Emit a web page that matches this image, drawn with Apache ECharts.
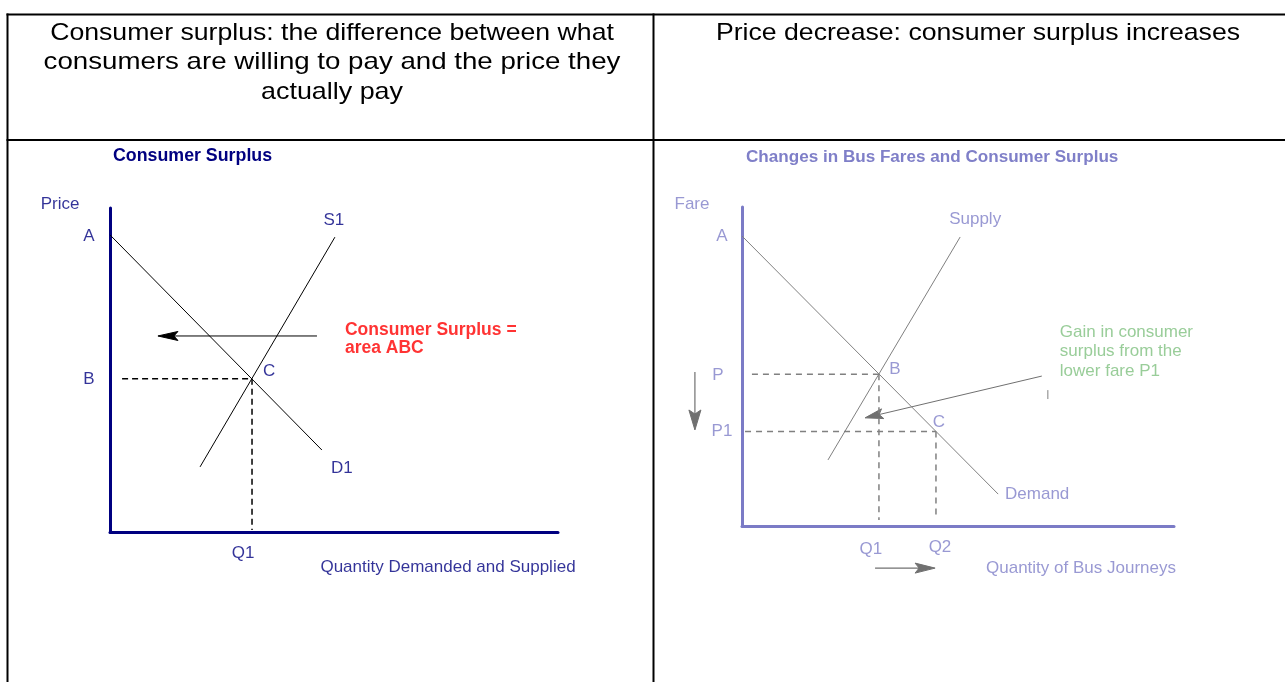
<!DOCTYPE html>
<html><head><meta charset="utf-8">
<script src="https://cdn.jsdelivr.net/npm/echarts@6/dist/echarts.min.js"></script>
<style>html,body{margin:0;padding:0;background:#fff}#c{width:1285px;height:682px}</style>
</head><body><div id="c"></div>
<script>
// ---------------- data ----------------
const leftHeaderLines = [
  'Consumer surplus: the difference between what',
  'consumers are willing to pay and the price they',
  'actually pay'
];
const rightHeaderLines = ['Price decrease: consumer surplus increases'];
const leftTitle = 'Consumer Surplus';
const rightTitle = 'Changes in Bus Fares and Consumer Surplus';

// Left diagram: quantity 0-100 (x), price 0-100 (y)
const csDemand = [[0, 91.7], [47.3, 25.3]];
const csSupply = [[20.1, 20.1], [50.2, 91.0]];
const csEquilibrium = [31.7, 47.3];            // point C
const csPriceGuide = [[2.7, 47.3], [31.7, 47.3]];
const csQtyGuide = [[31.7, 47.3], [31.7, 0.6]];
const csArrow = [46.2, 60.5, 10.7, 60.5];
const csAxisNames = ['Quantity Demanded and Supplied', 'Price'];
const csCurveNames = ['D1', 'S1'];
const csPointNames = ['A', 'B', 'C', 'Q1'];
const csNote = 'Consumer Surplus =\narea ABC';

// Right diagram: bus journeys 0-100 (x), fare 0-100 (y)
const busDemand = [[0, 90.9], [59.3, 10.0]];
const busSupply = [[19.9, 20.7], [50.5, 90.6]];
const busB = [31.7, 47.6];
const busC = [44.9, 29.6];
const busPGuide = [[2.3, 47.6], [31.7, 47.6]];
const busP1Guide = [[0.7, 29.6], [44.9, 29.6]];
const busQ1Guide = [[31.7, 47.6], [31.7, 1.9]];
const busQ2Guide = [[44.9, 29.6], [44.9, 2.8]];
const busGainArrow = [69.4, 47.0, 28.5, 33.9];
const busFareArrow = [-10.9, 48.3, -10.9, 30.1];
const busQtyArrow = [30.8, -13.2, 44.7, -13.2];
const busTick = [[70.8, 42.6], [70.8, 39.8]];
const busAxisNames = ['Quantity of Bus Journeys', 'Fare'];
const busCurveNames = ['Demand', 'Supply'];
const busPointNames = ['A', 'P', 'P1', 'B', 'C', 'Q1', 'Q2'];
const busNote = 'Gain in consumer\nsurplus from the\nlower fare P1';

// ---------------- styling ----------------
const FONT = 'Liberation Sans, Arial, sans-serif';
const NAVY = '#000080';
const LAV = '#7f7fc8';
const GREYL = '#808080';

function axisPair(grid, color) {
  const common = {
    gridIndex: grid, type: 'value', min: 0, max: 100,
    axisLine: { show: true, onZero: false, lineStyle: { color: color, width: 3 } },
    axisTick: { show: false }, axisLabel: { show: false }, splitLine: { show: false }
  };
  return [Object.assign({}, common), Object.assign({}, common)];
}
const [x0, y0] = axisPair(0, NAVY);
const [x1, y1] = axisPair(1, '#7b7bc6');

function lineSeries(idx, data, color, width, type) {
  return {
    type: 'line', xAxisIndex: idx, yAxisIndex: idx, data: data,
    showSymbol: false, symbol: 'none', silent: true, clip: false,
    lineStyle: { color: color, width: width, type: type || 'solid' }
  };
}

function arrowSeries(idx, data, color, headLen, headHalf, lw) {
  return {
    type: 'custom', xAxisIndex: idx, yAxisIndex: idx, clip: false, silent: true,
    data: data, dimensions: ['x1', 'y1', 'x2', 'y2'], encode: { x: [0, 2], y: [1, 3] },
    renderItem: function (params, api) {
      const p0 = api.coord([api.value(0), api.value(1)]);
      const p1 = api.coord([api.value(2), api.value(3)]);
      const dx = p1[0] - p0[0], dy = p1[1] - p0[1];
      const L = Math.hypot(dx, dy), ux = dx / L, uy = dy / L, nx = -uy, ny = ux;
      const bx = p1[0] - ux * headLen, by = p1[1] - uy * headLen;
      const mx = p1[0] - ux * headLen * 0.8, my = p1[1] - uy * headLen * 0.8;
      return {
        type: 'group', children: [
          { type: 'line', shape: { x1: p0[0], y1: p0[1], x2: mx, y2: my }, style: { stroke: color, lineWidth: lw } },
          { type: 'polygon', shape: { points: [p1, [bx + nx * headHalf, by + ny * headHalf], [mx, my], [bx - nx * headHalf, by - ny * headHalf]] },
            style: { fill: color, stroke: color, lineWidth: 1 } }
        ]
      };
    }
  };
}

function labelSeries(idx, specs, base) {
  return {
    type: 'scatter', xAxisIndex: idx, yAxisIndex: idx, symbolSize: 1, clip: false, silent: true, z: 5,
    itemStyle: { color: 'rgba(0,0,0,0)' },
    data: specs.map(s => ({
      value: s.at,
      label: Object.assign({ show: true, position: 'inside', formatter: s.text, offset: s.off }, base, s.style || {})
    }))
  };
}

const leftLabelBase = { color: NAVY, fontSize: 17, fontFamily: FONT };
const leftLabels = [
  { text: csAxisNames[1], at: [0, 100], off: [-50, -4] },
  { text: csPointNames[0], at: csDemand[0], off: [-21, 1] },
  { text: csPointNames[1], at: [0, csEquilibrium[1]], off: [-21, 1] },
  { text: csPointNames[2], at: csEquilibrium, off: [17, -7] },
  { text: csPointNames[3], at: [csEquilibrium[0], 0], off: [-9, 21] },
  { text: csCurveNames[1], at: csSupply[1], off: [-1, -17] },
  { text: csCurveNames[0], at: csDemand[1], off: [20, 18] },
  { text: csAxisNames[0], at: [100, 0], off: [-110, 35] },
  { text: csNote, at: [csArrow[0], csArrow[1]], off: [28, 3],
    style: { align: 'left', color: '#ff0000', fontWeight: 'bold', fontSize: 17.5, lineHeight: 18 } }
];

const rightLabelBase = { color: LAV, fontSize: 17, fontFamily: FONT };
const rightLabels = [
  { text: busAxisNames[1], at: [0, 100], off: [-50, -3] },
  { text: busPointNames[0], at: busDemand[0], off: [-20, 0] },
  { text: busPointNames[1], at: [0, busB[1]], off: [-24, 1] },
  { text: busPointNames[2], at: [0, busC[1]], off: [-20, 0] },
  { text: busPointNames[3], at: busB, off: [16, -5] },
  { text: busPointNames[4], at: busC, off: [3, -9] },
  { text: busPointNames[5], at: [busB[0], 0], off: [-8, 23] },
  { text: busPointNames[6], at: [busC[0], 0], off: [4, 21] },
  { text: busCurveNames[1], at: busSupply[1], off: [15, -18] },
  { text: busCurveNames[0], at: busDemand[1], off: [39, 0] },
  { text: busAxisNames[0], at: [100, 0], off: [-93, 42] },
  { text: busNote, at: [busGainArrow[0], busGainArrow[1]], off: [18, -24.5],
    style: { align: 'left', color: '#80c080', lineHeight: 19.5 } }
];

// header cell texts (each line stretched to the reference's wide setting)
const headerScales = [1.11, 1.153, 1.12];
function headerText(text, x, y, sx) {
  return { type: 'text', x: x, y: y, scaleX: sx,
    style: { text: text, align: 'center', verticalAlign: 'middle', fontSize: 24, fontFamily: FONT, fill: '#000' } };
}
const headerGraphics = leftHeaderLines.map((t, i) => headerText(t, 332, 33 + i * 29.6, headerScales[i]))
  .concat(rightHeaderLines.map((t, i) => headerText(t, 978, 33 + i * 29.6, 1.11)));

const BL = { stroke: '#000', lineWidth: 2 };
const chart = echarts.init(document.getElementById('c'), null, { renderer: 'canvas' });
chart.setOption({
  animation: false,
  backgroundColor: '#ffffff',
  title: [
    { text: leftTitle, left: 113, top: 147, padding: 0,
      textStyle: { color: NAVY, fontSize: 17.8, fontWeight: 'bold', fontFamily: FONT } },
    { text: rightTitle, left: 746, top: 149, padding: 0,
      textStyle: { color: LAV, fontSize: 17.1, fontWeight: 'bold', fontFamily: FONT } }
  ],
  grid: [
    { left: 110, top: 208, width: 448, height: 324 },
    { left: 742, top: 207, width: 432, height: 319 }
  ],
  xAxis: [x0, x1],
  yAxis: [y0, y1],
  graphic: [
    { type: 'line', shape: { x1: 6.5, y1: 14.5, x2: 1285, y2: 14.5 }, style: BL },
    { type: 'line', shape: { x1: 6.5, y1: 140, x2: 1285, y2: 140 }, style: BL },
    { type: 'line', shape: { x1: 7.5, y1: 13.5, x2: 7.5, y2: 682 }, style: BL },
    { type: 'line', shape: { x1: 653.5, y1: 13.5, x2: 653.5, y2: 682 }, style: BL }
  ].concat(headerGraphics),
  series: [
    lineSeries(0, csDemand, '#000', 1),
    lineSeries(0, csSupply, '#000', 1),
    lineSeries(0, csPriceGuide, '#000', 1.5, [6, 4]),
    lineSeries(0, csQtyGuide, '#000', 1.5, [6, 4]),
    arrowSeries(0, [csArrow], '#000', 20, 4.5, 1),
    labelSeries(0, leftLabels, leftLabelBase),

    lineSeries(1, busDemand, GREYL, 1),
    lineSeries(1, busSupply, GREYL, 1),
    lineSeries(1, busPGuide, GREYL, 1.5, [6, 5]),
    lineSeries(1, busP1Guide, GREYL, 1.5, [6, 5]),
    lineSeries(1, busQ1Guide, GREYL, 1.5, [6, 5]),
    lineSeries(1, busQ2Guide, GREYL, 1.5, [6, 5]),
    lineSeries(1, busTick, GREYL, 1),
    arrowSeries(1, [busGainArrow], '#707070', 18, 5, 1),
    arrowSeries(1, [busFareArrow], '#707070', 20, 6, 1.2),
    arrowSeries(1, [busQtyArrow], '#707070', 20, 5, 1.2),
    labelSeries(1, rightLabels, rightLabelBase)
  ]
});
</script>
</body></html>
